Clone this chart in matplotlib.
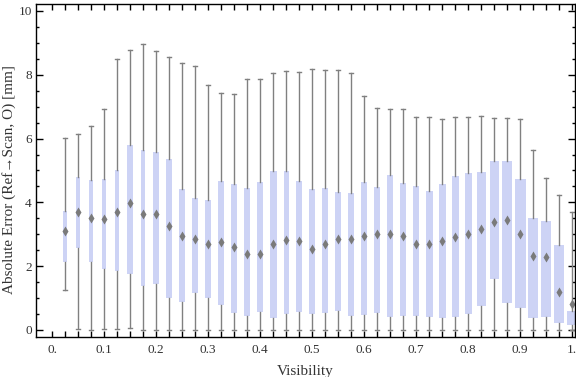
import matplotlib
matplotlib.use("Agg")
import matplotlib.pyplot as plt
import numpy as np

# visibility bins (box centres)
visibility = [0.025, 0.05, 0.075, 0.1, 0.125, 0.15, 0.175, 0.2, 0.225, 0.25,
              0.275, 0.3, 0.325, 0.35, 0.375, 0.4, 0.425, 0.45, 0.475, 0.5,
              0.525, 0.55, 0.575, 0.6, 0.625, 0.65, 0.675, 0.7, 0.725, 0.75,
              0.775, 0.8, 0.825, 0.85, 0.875, 0.9, 0.925, 0.95, 0.975, 1.0]

whisker_hi = [6.02, 6.13, 6.38, 6.93, 8.48, 8.77, 8.97, 8.74, 8.57, 8.36,
              8.27, 7.67, 7.42, 7.39, 7.86, 7.86, 8.05, 8.11, 8.08, 8.17,
              8.14, 8.14, 8.05, 7.33, 6.95, 6.92, 6.92, 6.69, 6.69, 6.60,
              6.69, 6.69, 6.70, 6.66, 6.64, 6.60, 5.63, 4.75, 4.22, 3.70]
q3 = [3.73, 4.79, 4.69, 4.72, 5.02, 5.80, 5.64, 5.58, 5.36, 4.42,
      4.14, 4.08, 4.67, 4.58, 4.45, 4.64, 4.98, 4.97, 4.67, 4.42,
      4.45, 4.33, 4.29, 4.64, 4.48, 4.86, 4.61, 4.51, 4.36, 4.58,
      4.83, 4.92, 4.94, 5.29, 5.29, 4.73, 3.51, 3.42, 2.66, 0.60]
mean = [3.10, 3.69, 3.52, 3.48, 3.69, 3.99, 3.65, 3.65, 3.27, 2.96,
        2.85, 2.71, 2.75, 2.59, 2.39, 2.39, 2.70, 2.82, 2.79, 2.55,
        2.70, 2.84, 2.86, 2.95, 3.00, 3.02, 2.95, 2.71, 2.69, 2.79,
        2.93, 3.01, 3.16, 3.39, 3.44, 3.01, 2.33, 2.30, 1.18, 0.80]
q1 = [2.14, 2.56, 2.14, 1.92, 1.86, 1.77, 1.39, 1.43, 1.01, 0.89,
      1.17, 1.01, 0.77, 0.54, 0.43, 0.56, 0.36, 0.49, 0.57, 0.51,
      0.52, 0.60, 0.45, 0.48, 0.54, 0.42, 0.45, 0.45, 0.42, 0.39,
      0.42, 0.51, 0.76, 1.61, 0.85, 0.70, 0.39, 0.42, 0.23, 0.17]
whisker_lo = [1.24, 0.02, 0.0, 0.02, 0.02, 0.05, 0.0, 0.0, 0.0, 0.0,
              0.0, 0.0, 0.0, 0.0, 0.0, 0.0, 0.0, 0.0, 0.0, 0.0,
              0.0, 0.0, 0.0, 0.0, 0.0, 0.0, 0.0, 0.0, 0.0, 0.0,
              0.0, 0.0, 0.0, 0.0, 0.0, 0.0, 0.0, 0.0, 0.0, 0.0]

# box widths in pixels (they vary per bin in the original)
box_px = [4.3, 4.7, 4.7, 4.7, 4.7, 6, 4.7, 6, 6, 6,
          6, 6, 6, 6, 6.3, 6.3, 7, 5, 6, 6,
          6, 6, 6, 6, 6, 6, 6, 6, 7, 7,
          7, 7, 9, 8.7, 9.7, 11, 10, 10, 10, 10]

PX_PER_UNIT = 518.0
BOX_COLOR = "#cdd3f5"
GRAY = "#808080"
SERIF = ["Liberation Serif", "DejaVu Serif"]

stats = []
for i in range(len(visibility)):
    stats.append({
        "whislo": whisker_lo[i], "q1": q1[i], "med": q1[i],
        "q3": q3[i], "whishi": whisker_hi[i], "mean": mean[i],
        "fliers": [],
    })

fig = plt.figure(figsize=(5.76, 3.77), dpi=100)
ax = fig.add_axes([36 / 576, 1 - 337.3 / 377, 539 / 576, 333 / 377])

ax.bxp(stats, positions=visibility,
       widths=[w / PX_PER_UNIT for w in box_px],
       capwidths=0.008,
       patch_artist=True, showmeans=True, showfliers=False,
       boxprops=dict(facecolor=BOX_COLOR, edgecolor="none", linewidth=0),
       medianprops=dict(linewidth=0),
       whiskerprops=dict(color=GRAY, linewidth=1.0),
       capprops=dict(color=GRAY, linewidth=1.0),
       meanprops=dict(marker="d", markersize=5.5, markerfacecolor="#7a7a7a",
                      markeredgecolor="none"),
       manage_ticks=False)

ax.set_xlim(-0.031, 1.0054)
ax.set_ylim(-0.23, 10.21)

xt = [0.0, 0.1, 0.2, 0.3, 0.4, 0.5, 0.6, 0.7, 0.8, 0.9, 1.0]
xl = ["0.", "0.1", "0.2", "0.3", "0.4", "0.5", "0.6", "0.7", "0.8", "0.9", "1."]
ax.set_xticks(xt)
ax.set_xticklabels(xl)
ax.set_xticks(np.arange(0, 1.001, 0.025), minor=True)
ax.set_yticks([0, 2, 4, 6, 8, 10])
ax.set_yticks(np.arange(0, 10.01, 0.5), minor=True)

ax.tick_params(which="both", direction="in", top=True, right=True,
               width=1.0, color="black")
ax.tick_params(axis="x", which="both", length=4)
ax.tick_params(axis="y", which="major", length=5)
ax.tick_params(axis="y", which="minor", length=2.5)
ax.tick_params(axis="both", which="major", labelsize=9.5, labelcolor="#333333")
ax.tick_params(axis="x", which="major", pad=5)
ax.tick_params(axis="y", which="major", pad=3)
for lab in ax.get_xticklabels() + ax.get_yticklabels():
    lab.set_family(SERIF)

for s in ax.spines.values():
    s.set_linewidth(1.0)

ax.set_xlabel("Visibility", family=SERIF, fontsize=11, color="#333333", labelpad=6)
ax.set_ylabel("Absolute Error (Ref\u2192Scan, O) [mm]", family=SERIF,
              fontsize=11, color="#333333", va="center")
ax.yaxis.set_label_coords((9 - 36) / 539, (337.3 - 180) / 333)

fig.savefig("out.png", dpi=100)
